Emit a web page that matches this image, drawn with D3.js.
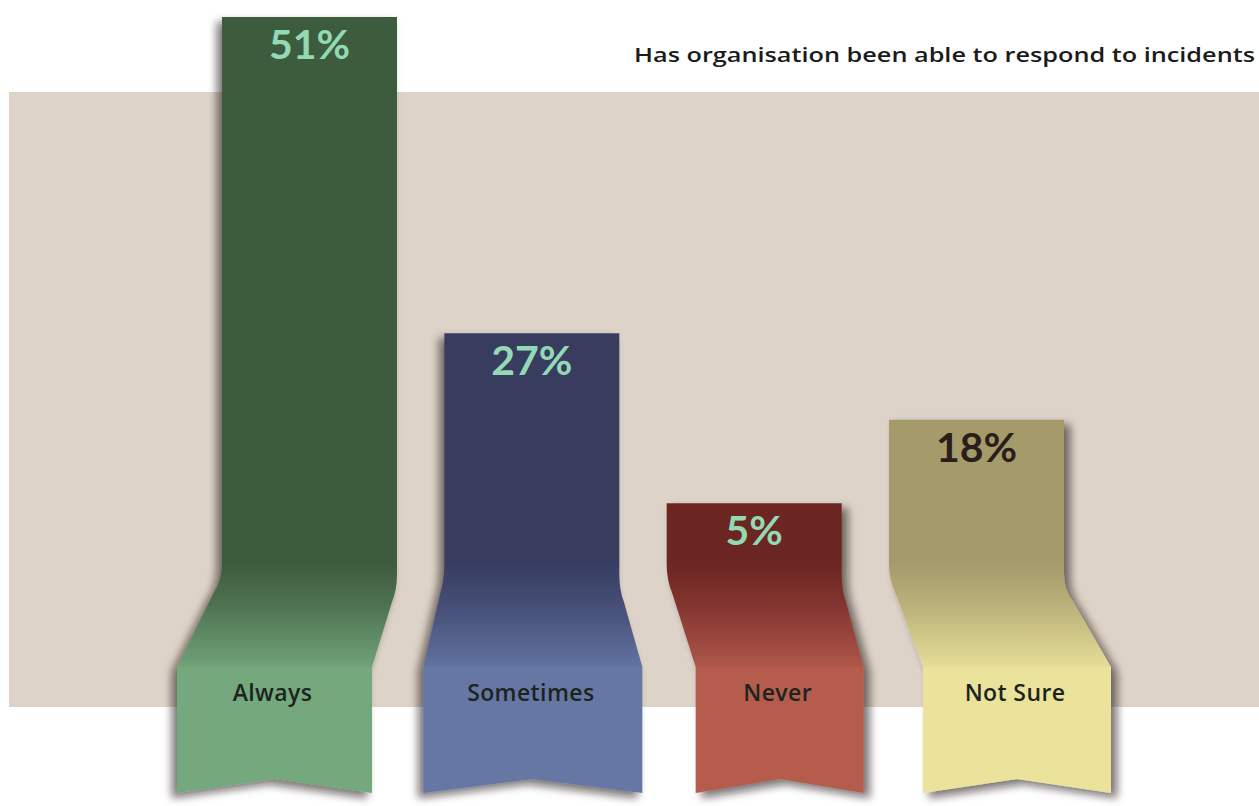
<!DOCTYPE html>
<html>
<head>
<meta charset="utf-8">
<script src="https://cdn.jsdelivr.net/npm/d3@7/dist/d3.min.js"></script>
<style>
  html, body { margin: 0; padding: 0; background: #ffffff; }
  svg { display: block; }
</style>
</head>
<body>
<svg id="chart" width="1259" height="806"></svg>
<script>
// Survey answers and their shares (percent)
const categories = ["Always", "Sometimes", "Never", "Not Sure"];
const shares = [51, 27, 5, 18];
const shareLabels = ["51%", "27%", "5%", "18%"];
const title = "Has organisation been able to respond to incidents";

// Ribbon colours: upper (dark) and lower (light) part of each ribbon
const darkColors = ["#3d5b3e", "#373d61", "#6c2522", "#a59a6b"];
const lightColors = ["#74a87d", "#6677a4", "#b55b4e", "#ebe39b"];
const valueTextColors = ["#93d9b6", "#93d9b6", "#93d9b6", "#2a1e1b"];

// How far the folded lower end shifts left/right from the upper part
const foldLeft = [-45, -21, 29, 34];
const foldRight = [-25, 23, 22, 47];

const W = 1259, H = 806;
const svg = d3.select("#chart");
const defs = svg.append("defs");

// Geometry of the ribbons
const foldStart = 568;   // upper part ends, diagonal fold begins
const foldEnd = 667;     // lower ribbon begins
const tailY = 793;       // bottom corners of the ribbon tail
const notchY = 779;      // tip of the notch cut into the tail

const x = d3.scaleBand().domain(categories).range([222, 1064]).paddingInner(0.213).paddingOuter(0);
const y = d3.scalePow().exponent(1.58).domain([0, d3.max(shares)]).range([516, 17]);

// Background band
svg.append("rect").attr("x", 9).attr("y", 92).attr("width", W - 9).attr("height", 615)
  .attr("fill", "#ddd3c8");

// Title
svg.append("text")
  .attr("x", 634).attr("y", 62)
  .attr("font-family", "Open Sans, sans-serif")
  .attr("font-weight", 600)
  .attr("font-size", 20)
  .attr("fill", "#1b1b1b")
  .attr("textLength", 621).attr("lengthAdjust", "spacingAndGlyphs")
  .text(title);

// Soft drop shadows cast to the left or right
function shadow(id, dx) {
  const f = defs.append("filter").attr("id", id)
    .attr("x", "-20%").attr("y", "-10%").attr("width", "140%").attr("height", "120%");
  f.append("feDropShadow").attr("dx", dx).attr("dy", 5).attr("stdDeviation", 4)
    .attr("flood-color", "#1a1412").attr("flood-opacity", 0.6);
}
shadow("shadowL", -5);
shadow("shadowR", 6);

const data = categories.map((c, i) => ({
  cat: c, v: shares[i], label: shareLabels[i],
  dark: darkColors[i], light: lightColors[i], textColor: valueTextColors[i],
  dl: foldLeft[i], dr: foldRight[i], i
}));

data.forEach(d => {
  const g = defs.append("linearGradient").attr("id", "grad" + d.i)
    .attr("gradientUnits", "userSpaceOnUse")
    .attr("x1", 0).attr("x2", 0).attr("y1", foldStart - 5).attr("y2", foldEnd);
  g.append("stop").attr("offset", 0).attr("stop-color", d.dark);
  g.append("stop").attr("offset", 0.4).attr("stop-color", d3.interpolateRgb(d.dark, d.light)(0.3));
  g.append("stop").attr("offset", 1).attr("stop-color", d3.interpolateRgb(d.dark, d.light)(0.92));
});

const bars = svg.selectAll("g.ribbon").data(data).enter().append("g")
  .attr("class", "ribbon")
  .attr("filter", d => d.i < 2 ? "url(#shadowL)" : "url(#shadowR)");

// Upper part with the diagonal fold
bars.append("path")
  .attr("d", d => {
    const L = x(d.cat), R = L + x.bandwidth(), top = y(d.v);
    const L2 = L + d.dl, R2 = R + d.dr;
    const p = d3.path();
    p.moveTo(L, top);
    p.lineTo(R, top);
    p.lineTo(R, foldStart + 6);
    p.quadraticCurveTo(R, foldStart + 22, R + d.dr * 0.2, foldStart + 34);
    p.lineTo(R2, foldEnd);
    p.lineTo(L2, foldEnd);
    p.lineTo(L + d.dl * 0.2, foldStart + 26);
    p.quadraticCurveTo(L, foldStart + 12, L, foldStart - 4);
    p.closePath();
    return p.toString();
  })
  .attr("fill", d => `url(#grad${d.i})`);

// Lower tail with notch
bars.append("path")
  .attr("d", d => {
    const L2 = x(d.cat) + d.dl, R2 = x(d.cat) + x.bandwidth() + d.dr;
    const p = d3.path();
    p.moveTo(L2, foldEnd);
    p.lineTo(R2, foldEnd);
    p.lineTo(R2, tailY);
    p.lineTo((L2 + R2) / 2, notchY);
    p.lineTo(L2, tailY);
    p.closePath();
    return p.toString();
  })
  .attr("fill", d => d.light);

// Value labels
svg.selectAll("text.value").data(data).enter().append("text")
  .attr("class", "value")
  .attr("x", d => x(d.cat) + x.bandwidth() / 2)
  .attr("y", d => y(d.v) + 42)
  .attr("text-anchor", "middle")
  .attr("font-family", "Lato, sans-serif")
  .attr("font-weight", 700)
  .attr("font-size", 41)
  .attr("fill", d => d.textColor)
  .text(d => d.label);

// Category labels on the tails
svg.selectAll("text.cat").data(data).enter().append("text")
  .attr("class", "cat")
  .attr("x", d => x(d.cat) + (d.dl + x.bandwidth() + d.dr) / 2 - 2)
  .attr("y", 701)
  .attr("text-anchor", "middle")
  .attr("font-family", "Open Sans, sans-serif")
  .attr("font-weight", 600)
  .attr("font-size", 23)
  .attr("letter-spacing", 0.4)
  .attr("fill", "#1d2420")
  .text(d => d.cat);
</script>
</body>
</html>
